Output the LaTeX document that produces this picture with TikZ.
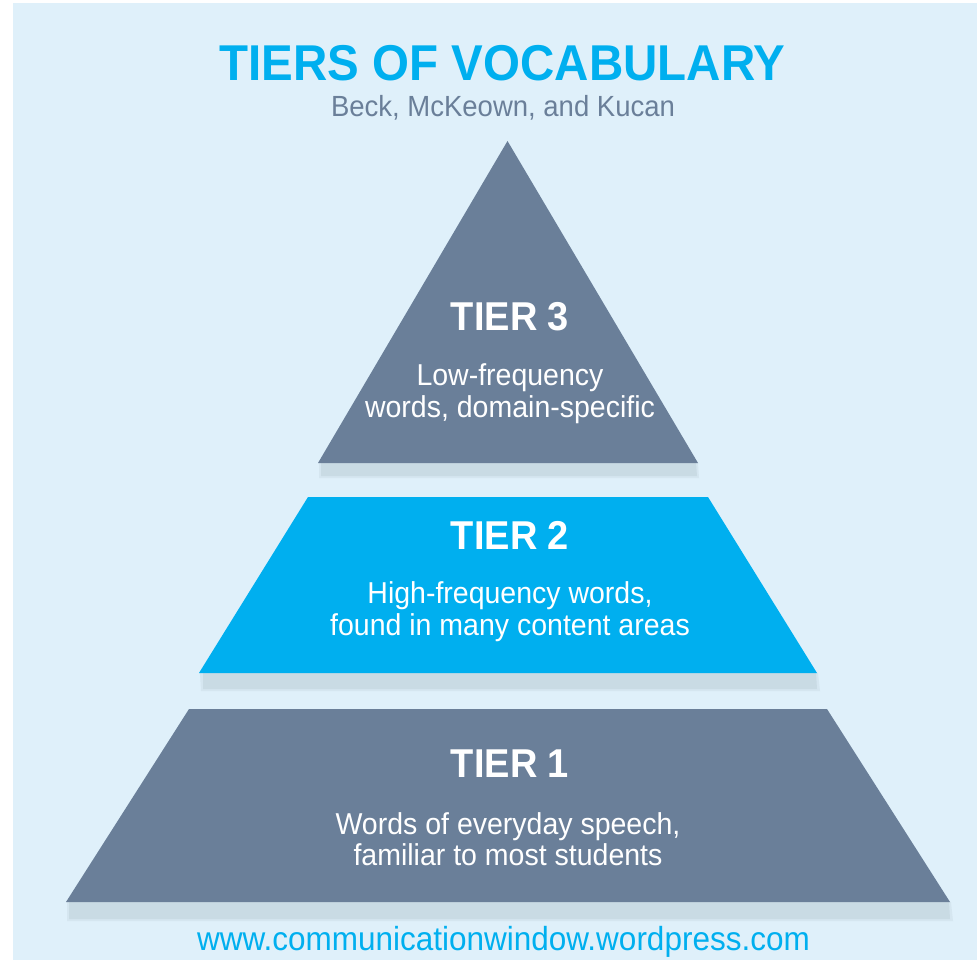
\documentclass[tikz,border=0pt]{standalone}
\usepackage{fontspec}
\setmainfont{Liberation Sans}
\definecolor{bgblue}{HTML}{DFF0FA}
\definecolor{slate}{HTML}{6A7F99}
\definecolor{tierblue}{HTML}{00AFEF}
\definecolor{shadowc}{HTML}{C9DBE4}
\newcommand\talltext[1]{\scalebox{1}[1.06]{#1}}
\tikzset{
  tiertitle/.style={anchor=base, text=white, inner sep=0pt, font=\fontsize{38}{44}\selectfont\bfseries},
  tiertext/.style={anchor=base, text=white, inner sep=0pt, font=\fontsize{28.5}{33}\selectfont},
  shadowbar/.style={fill=shadowc},
  softshadow/.style={fill=shadowc, opacity=0.45},
}
\begin{document}
\begin{tikzpicture}[x=1pt,y=-1pt]
\useasboundingbox (0,0) rectangle (977,960);
\fill[bgblue] (13,3) rectangle (977,960);
% shadows (soft edges)
\fill[softshadow] (319,463) -- (698,463) -- (699,478) -- (319,478) -- cycle;
\fill[shadowbar] (321,463) -- (696,463) -- (697,476) -- (321,476) -- cycle;
\fill[softshadow] (200,673) -- (818,673) -- (820,691) -- (201,691) -- cycle;
\fill[shadowbar] (203,673) -- (816,673) -- (817,689) -- (203,689) -- cycle;
\fill[softshadow] (67,902) -- (951,902) -- (953,921) -- (67,921) -- cycle;
\fill[shadowbar] (69,902) -- (949,902) -- (950,919) -- (69,919) -- cycle;
% tiers
\fill[slate] (507.5,141) -- (698,463) -- (318,463) -- cycle;
\fill[tierblue] (308,497) -- (708,497) -- (817,673) -- (199,673) -- cycle;
\fill[slate] (189,709) -- (827,709) -- (950,902) -- (66,902) -- cycle;
% heading
\node[anchor=base, inner sep=0pt, text=tierblue, font=\fontsize{47.5}{54}\selectfont\bfseries] (title) at (502.5,81) {\talltext{TIERS OF VOCABULARY}};
\node[anchor=base, inner sep=0pt, text=slate, font=\fontsize{27.5}{32}\selectfont] (authors) at (503,117) {\talltext{Beck, McKeown, and Kucan}};
% tier 3
\node[tiertitle] (t3) at (510,330) {\talltext{TIER 3}};
\node[tiertext] (t3a) at (510,385) {\talltext{Low-frequency}};
\node[tiertext] (t3b) at (510,417) {\talltext{words, domain-specific}};
% tier 2
\node[tiertitle] (t2) at (510,549) {\talltext{TIER 2}};
\node[tiertext] (t2a) at (510,603) {\talltext{High-frequency words,}};
\node[tiertext] (t2b) at (510,635) {\talltext{found in many content areas}};
% tier 1
\node[tiertitle] (t1) at (510,777) {\talltext{TIER 1}};
\node[tiertext] (t1a) at (508,834) {\talltext{Words of everyday speech,}};
\node[tiertext] (t1b) at (508,865) {\talltext{familiar to most students}};
% url
\node[anchor=base, inner sep=0pt, text=tierblue, font=\fontsize{31.5}{36}\selectfont] (url) at (503.5,950) {\talltext{www.communicationwindow.wordpress.com}};
\end{tikzpicture}
\end{document}
